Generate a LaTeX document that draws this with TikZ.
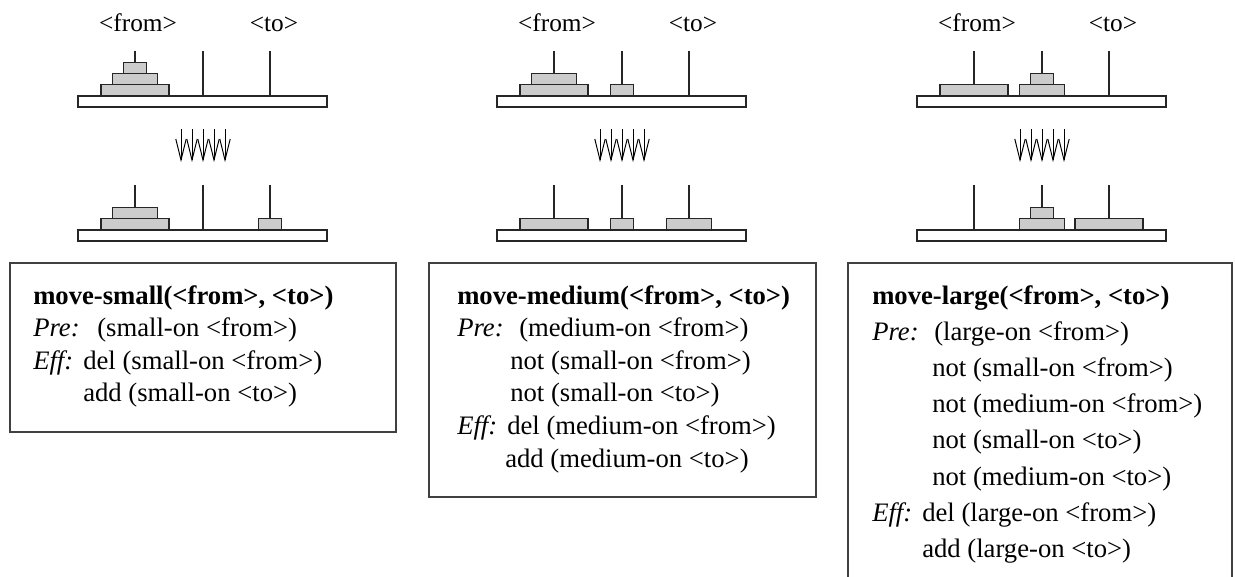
\documentclass[tikz,border=0pt]{standalone}
\usepackage{fontspec}
\setmainfont{Liberation Serif}
\begin{document}
\begin{tikzpicture}[x=0.75pt,y=-0.75pt,
  disk/.style={draw=black!85,fill=black!20,line width=0.8pt},
  peg/.style={draw=black!85,line width=0.8pt},
  board/.style={draw=black!85,fill=white,line width=0.8pt},
  flow/.style={draw=black,line width=0.75pt},
  opbox/.style={draw=black!75,line width=0.8pt},
  lbl/.style={font=\fontsize{19}{23}\selectfont,anchor=base,inner sep=0pt},
  txt/.style={font=\fontsize{20}{24}\selectfont,anchor=base west,inner sep=0pt}]
\useasboundingbox (0,0) rectangle (1235,576);

% one disk: centre x, half width, level on the peg, top of the board
\newcommand\hdisk[4]{\draw[disk] ({#1-#2},{#4-(#3)*11.3}) rectangle ({#1+#2},{#4-(#3+1)*11.3});}
% board with three pegs, top edge at #1
\newcommand\hboard[1]{%
  \draw[board] (78,#1) rectangle (327,{#1+11});
  \foreach \px in {135,203,270} {\draw[peg] (\px,{#1-45}) -- (\px,#1);}}
% five downward arrows between the two states
\newcommand\hflow{%
  \foreach \i in {-2,...,2} {%
    \coordinate (s\i) at ({203+11*\i},129);
    \coordinate (e\i) at ({203+11*\i},160);
    \draw[flow] (s\i) -- (e\i);
    \draw[flow] ([xshift=-3.9pt]e\i |- 0,139) -- (e\i) -- ([xshift=3.9pt]e\i |- 0,139);}}
% peg labels
\newcommand\hlabels{%
  \node[lbl] (from) at (138,31) {<from>};
  \node[lbl] (to) at (274,31) {<to>};}

\def\L{34}\def\M{22.5}\def\S{11.5}
\def\pa{135}\def\pb{203}\def\pc{270}

% move-small
\begin{scope}
  \hlabels
  \hboard{96}
  \hdisk{\pa}{\L}{0}{96}\hdisk{\pa}{\M}{1}{96}\hdisk{\pa}{\S}{2}{96}
  \hflow
  \hboard{230}
  \hdisk{\pa}{\L}{0}{230}\hdisk{\pa}{\M}{1}{230}\hdisk{\pc}{\S}{0}{230}
\end{scope}

% move-medium
\begin{scope}[shift={(419,0)}]
  \hlabels
  \hboard{96}
  \hdisk{\pa}{\L}{0}{96}\hdisk{\pa}{\M}{1}{96}\hdisk{\pb}{\S}{0}{96}
  \hflow
  \hboard{230}
  \hdisk{\pa}{\L}{0}{230}\hdisk{\pb}{\S}{0}{230}\hdisk{\pc}{\M}{0}{230}
\end{scope}

% move-large
\begin{scope}[shift={(839,0)}]
  \hlabels
  \hboard{96}
  \hdisk{\pa}{\L}{0}{96}\hdisk{\pb}{\M}{0}{96}\hdisk{\pb}{\S}{1}{96}
  \hflow
  \hboard{230}
  \hdisk{\pb}{\M}{0}{230}\hdisk{\pb}{\S}{1}{230}\hdisk{\pc}{\L}{0}{230}
\end{scope}

% operator boxes
\draw[opbox] (10,263) rectangle (396,432);
\draw[opbox] (429,263) rectangle (816,497);
\draw[opbox] (848,263) rectangle (1232,600);

\def\ls{32.6}
% move-small
\node[txt] (t1) at (33,304) {\textbf{move-small(<from>, <to>)}};
\node[txt] (p1) at (33,{304+\ls}) {\textit{Pre:}};
\node[txt] at (97,{304+\ls}) {(small-on <from>)};
\node[txt] (e1) at (33,{304+2*\ls}) {\textit{Eff:}};
\node[txt] at (83,{304+2*\ls}) {del (small-on <from>)};
\node[txt] at (83,{304+3*\ls}) {add (small-on <to>)};

% move-medium
\node[txt] (t2) at (457,304) {\textbf{move-medium(<from>, <to>)}};
\node[txt] (p2) at (457,{304+\ls}) {\textit{Pre:}};
\node[txt] at (519,{304+\ls}) {(medium-on <from>)};
\node[txt] at (510,{304+2*\ls}) {not (small-on <from>)};
\node[txt] at (510,{304+3*\ls}) {not (small-on <to>)};
\node[txt] (e2) at (457,{304+4*\ls}) {\textit{Eff:}};
\node[txt] at (507,{304+4*\ls}) {del (medium-on <from>)};
\node[txt] at (505,{304+5*\ls}) {add (medium-on <to>)};

% move-large
\def\lt{36.2}
\node[txt] (t3) at (872,304) {\textbf{move-large(<from>, <to>)}};
\node[txt] (p3) at (872,{304+\lt}) {\textit{Pre:}};
\node[txt] at (934,{304+\lt}) {(large-on <from>)};
\node[txt] at (932,{304+2*\lt}) {not (small-on <from>)};
\node[txt] at (932,{304+3*\lt}) {not (medium-on <from>)};
\node[txt] at (932,{304+4*\lt}) {not (small-on <to>)};
\node[txt] at (932,{304+5*\lt}) {not (medium-on <to>)};
\node[txt] (e3) at (872,{304+6*\lt}) {\textit{Eff:}};
\node[txt] at (922,{304+6*\lt}) {del (large-on <from>)};
\node[txt] at (922,{304+7*\lt}) {add (large-on <to>)};
\end{tikzpicture}
\end{document}
